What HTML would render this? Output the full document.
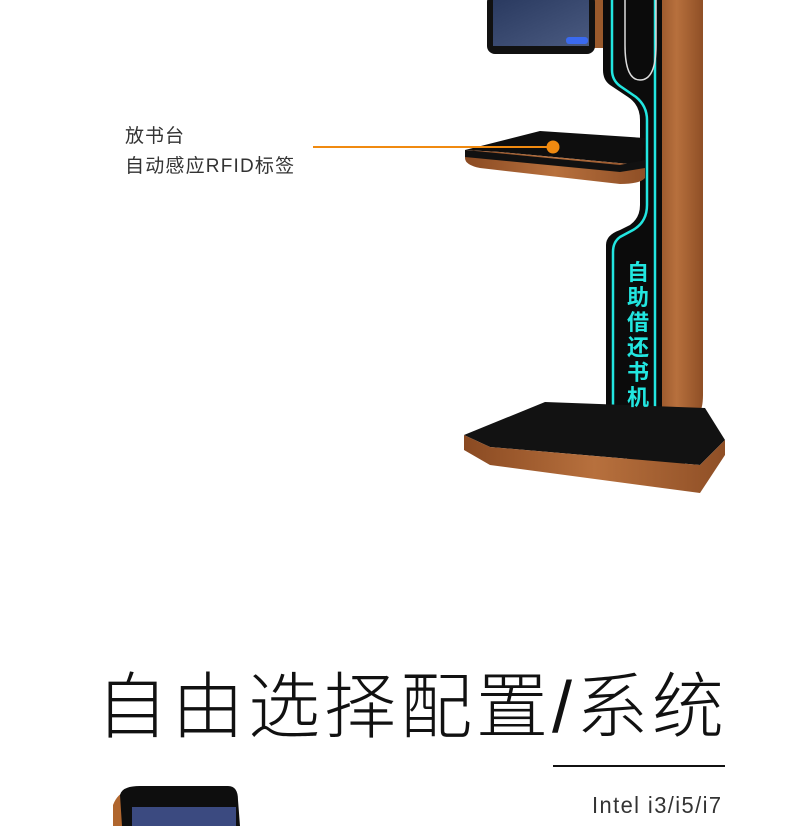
<!DOCTYPE html>
<html><head><meta charset="utf-8"><style>
html,body{margin:0;padding:0;background:#fff;}
body{width:800px;height:826px;position:relative;overflow:hidden;font-family:"Liberation Sans","Noto Sans CJK SC",sans-serif;}
.t{position:absolute;color:#333;white-space:nowrap;}
</style></head><body>
<svg width="800" height="826" style="position:absolute;left:0;top:0">
<defs>
<linearGradient id="wood" x1="0" x2="1"><stop offset="0" stop-color="#8a4a22"/><stop offset="0.5" stop-color="#b7703d"/><stop offset="1" stop-color="#8f4f26"/></linearGradient>
<linearGradient id="scr" x1="0" y1="0" x2="1" y2="1"><stop offset="0" stop-color="#2a3a60"/><stop offset="1" stop-color="#4a5a80"/></linearGradient>
</defs>
<path d="M650 0 H703 V395 Q703 425 680 425 H650 Z" fill="url(#wood)"/>
<path d="M592 0 H606 V48 H592 Z" fill="#9a5a2c"/>
<rect x="487" y="-6" width="108" height="60" rx="8" fill="#111"/>
<rect x="493" y="0" width="96" height="46" fill="url(#scr)"/>
<rect x="566" y="37" width="22" height="7" rx="3" fill="#3a6af0"/>
<path d="M603 0 H662 V430 Q662 445 640 445 H630 Q606 440 606 410 V245 Q606 235 620 230 L630 225 Q640 218 640 205 V120 Q640 105 628 97 L610 85 Q603 80 603 70 Z" fill="#0b0b0b"/>
<path d="M612 0 V70 Q612 80 620 86 L636 97 Q647 106 647 120 V205 Q647 222 633 230 L620 237 Q613 242 613 252 V410 Q613 435 635 437 H645 Q655 435 655 420 V0" fill="none" stroke="#22e6e0" stroke-width="2.5"/>
<path d="M625 0 V45 Q625 80 640 80 Q656 80 656 45 V0" fill="none" stroke="#ddd" stroke-width="1.5"/>
<rect x="627" y="420" width="58" height="45" fill="#151515"/>
<path d="M464 435 L545 402 L705 408 L725 440 L700 465 L490 447 Z" fill="#121212"/>
<path d="M464 435 L490 447 L700 465 L725 440 L725 455 L700 493 L490 465 L464 450 Z" fill="url(#wood)"/>
<path d="M465 150 L540 131 L645 138 L640 165 L500 152 Z" fill="#0e0e0e"/>
<path d="M465 150 L500 152 L640 165 L645 160 L645 178 Q640 184 620 184 L480 168 Q465 165 465 158 Z" fill="url(#wood)"/>
<path d="M465 150 L620 165 L645 160 L645 168 L620 172 L465 157 Z" fill="#111"/>
<line x1="313" y1="147" x2="553" y2="147" stroke="#f08a10" stroke-width="2"/>
<circle cx="553" cy="147" r="6.5" fill="#f08a10"/>
<rect x="553" y="765" width="172" height="2" fill="#111"/>
<path d="M113 805 Q118 792 130 790 L135 826 L113 826 Z" fill="#b0662e"/>
<path d="M120 795 Q122 786 140 786 H228 Q238 786 238 800 L240 826 H122 Z" fill="#0e0e0e"/>
<rect x="132" y="807" width="104" height="19" fill="#3b4a80"/>
</svg>
<div class="t" style="left:627px;top:260px;width:24px;font-size:22px;font-weight:bold;line-height:25px;color:#22e6e0;white-space:normal;">自助借还书机</div>
<div class="t" style="left:125px;top:121px;font-size:19px;letter-spacing:1px;">放书台</div>
<div class="t" style="left:125px;top:151px;font-size:19px;letter-spacing:1.2px;">自动感应RFID标签</div>
<div class="t" style="left:96px;top:648px;font-size:72px;color:#111;letter-spacing:4px;font-weight:300;">自由选择配置/系统</div>
<div class="t" style="left:592px;top:792px;font-size:23px;color:#333;transform:scaleX(0.95);transform-origin:left top;letter-spacing:1.5px;">Intel i3/i5/i7</div>
</body></html>
